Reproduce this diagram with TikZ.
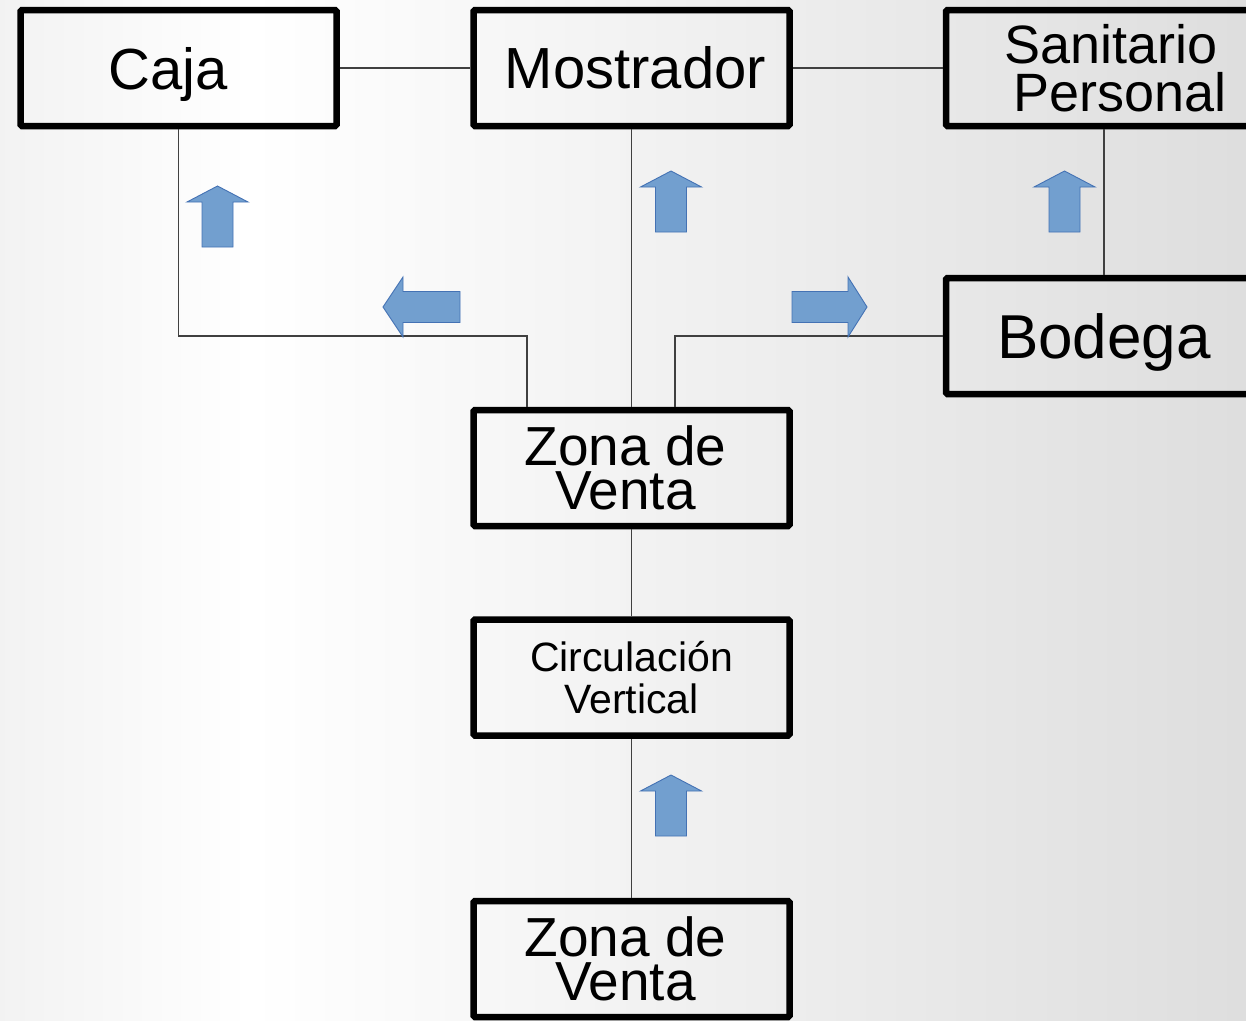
\documentclass[tikz,border=0pt]{standalone}
\usepackage{fontspec}
\setmainfont{Liberation Sans}
\usepackage{xcolor}
\usepackage{tikz}

\definecolor{flechaazul}{RGB}{114,159,207}
\definecolor{bordeazul}{RGB}{68,114,180}
\pgfdeclarehorizontalshading{fondo}{100bp}{color(0bp)=(gray!10); color(25bp)=(gray!10); color(35bp)=(white); color(75bp)=(gray!26); color(100bp)=(gray!26)}

\begin{document}
\begin{tikzpicture}[x=1pt,y=-1pt,
    every node/.style={font=\fontsize{58}{58}\selectfont},
    caja/.style={draw,line width=6.5pt,rounded corners=1.5pt,minimum width=316pt,minimum height=116pt,inner sep=0pt,align=center},
    sinbajada/.style={text depth=0pt},
    enlace/.style={line width=1.2pt,black!75},
    flecha/.style={fill=flechaazul,draw=bordeazul,line width=0.9pt,line join=miter},
]
\useasboundingbox (0,0) rectangle (1246,1020);
\shade[shading=fondo] (0,0) rectangle (1246,1020);
\node[caja,sinbajada] (Caja) at (178.5,68) {Caja\hspace*{20pt}};
\node[caja] (Most) at (631.5,68) {\hspace*{8pt}Mostrador};
\node[caja,sinbajada,font=\fontsize{54}{48}\selectfont] (San) at (1104,68) {\hspace*{14pt}Sanitario\\\hspace*{32pt}Personal};
\node[caja,sinbajada,font=\fontsize{62}{62}\selectfont] (Bod) at (1104,336) {Bodega};
\node[caja,font=\fontsize{55}{44}\selectfont] (ZV1) at (631.5,468) {Zona de\hspace*{12pt}\\Venta\hspace*{12pt}};
\node[caja,font=\fontsize{41}{42}\selectfont] (CV) at (631.5,677.5) {Circulación\\Vertical};
\node[caja,font=\fontsize{55}{44}\selectfont] (ZV2) at (631.5,959) {Zona de\hspace*{12pt}\\Venta\hspace*{12pt}};
\coordinate (codoI) at (527,336);
\coordinate (codoD) at (675,336);
\draw[enlace] (Caja) -- (Most);
\draw[enlace] (Most) -- (San);
\draw[enlace] (Caja.south) |- (codoI) -- (codoI |- ZV1.north);
\draw[enlace] (Bod.west) -- (codoD) -- (codoD |- ZV1.north);
\draw[enlace] (Most) -- (ZV1);
\draw[enlace] (San) -- (Bod);
\draw[enlace] (ZV1) -- (CV);
\draw[enlace] (CV) -- (ZV2);
% flechas de circulacion
\foreach \ax/\ay in {217.5/247, 671/232, 1064.5/232, 671/836}{
  \draw[flecha,shift={(\ax,\ay)}] (-15.5,0) -- (-15.5,-45) -- (-30.5,-45) -- (0,-61)
    -- (30.5,-45) -- (15.5,-45) -- (15.5,0) -- cycle;
}
\draw[flecha] (460,291.5) -- (403,291.5) -- (403,277) -- (383,307) -- (403,337) -- (403,322.5) -- (460,322.5) -- cycle;
\draw[flecha] (792,291.5) -- (848,291.5) -- (848,277) -- (867,307) -- (848,337) -- (848,322.5) -- (792,322.5) -- cycle;
\end{tikzpicture}
\end{document}
